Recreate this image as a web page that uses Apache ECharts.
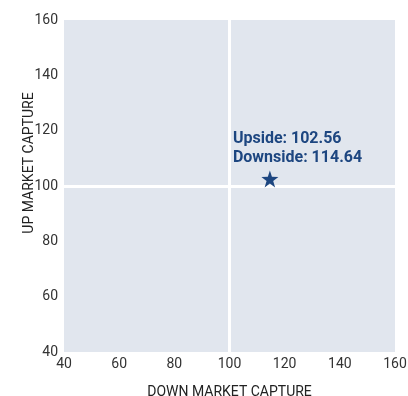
<!DOCTYPE html>
<html>
<head>
<meta charset="utf-8">
<script src="https://cdn.jsdelivr.net/npm/echarts@6/dist/echarts.min.js"></script>
<style>
html, body { margin: 0; padding: 0; background: #fff; }
#main { width: 408px; height: 396px; }
</style>
</head>
<body>
<div id="main"></div>
<script>
// 数据
var axisTicks = [40, 60, 80, 100, 120, 140, 160];
var downCapture = [114.64];
var upCapture = [102.56];
var centerLine = 100;

var myChart = echarts.init(document.getElementById('main'));
var labelFont = 'Roboto';
var option = {
	animation: false,
	grid: {
		left: 64,
		right: 13,
		top: 20,
		bottom: 44,
		outerBoundsMode: 'none',
		containLabel: false,
		show: true,
		backgroundColor: '#e1e6ee',
		borderWidth: 0
	},
	xAxis: {
		type: 'value',
		min: axisTicks[0],
		max: axisTicks[axisTicks.length - 1],
		interval: 20,
		name: 'DOWN MARKET CAPTURE',
		nameLocation: 'middle',
		nameGap: 33,
		nameMoveOverlap: false,
		nameTextStyle: { fontFamily: labelFont, fontSize: 14, color: '#222' },
		axisLine: { show: false },
		axisTick: { show: false },
		splitLine: { show: false },
		axisLabel: { fontFamily: labelFont, fontSize: 14, color: '#333', margin: 5 }
	},
	yAxis: {
		type: 'value',
		min: axisTicks[0],
		max: axisTicks[axisTicks.length - 1],
		interval: 20,
		name: 'UP MARKET CAPTURE',
		nameLocation: 'middle',
		nameGap: 28,
		nameMoveOverlap: false,
		nameTextStyle: { fontFamily: labelFont, fontSize: 14, color: '#222', padding: [0, 0, 0, 46] },
		axisLine: { show: false },
		axisTick: { show: false },
		splitLine: { show: false },
		axisLabel: { fontFamily: labelFont, fontSize: 14, color: '#333', margin: 6 }
	},
	series: [{
		type: 'scatter',
		symbol: 'path://M50,0 L61.8,35.3 L99,35.5 L69.1,57.7 L80.3,93.3 L50,71.8 L19.7,93.3 L30.9,57.7 L1,35.5 L38.2,35.3 Z',
		symbolSize: 17,
		itemStyle: { color: '#1d4680', opacity: 1 },
		data: downCapture.map(function(d, i) { return [d, upCapture[i]]; }),
		label: {
			show: true,
			position: 'top',
			align: 'left',
			offset: [-37, 2],
			fontFamily: labelFont,
			fontSize: 16,
			fontWeight: 'bold',
			lineHeight: 19,
			color: '#1d4680',
			formatter: function(p) {
				return 'Upside: ' + p.value[1].toFixed(2) + '\nDownside: ' + p.value[0].toFixed(2);
			}
		},
		markLine: {
			silent: true,
			symbol: 'none',
			label: { show: false },
			lineStyle: { color: '#fff', width: 3, type: 'solid', opacity: 1 },
			data: [{ xAxis: centerLine }, { yAxis: centerLine }]
		},
		z: 5
	}]
};
myChart.setOption(option);
</script>
</body>
</html>
